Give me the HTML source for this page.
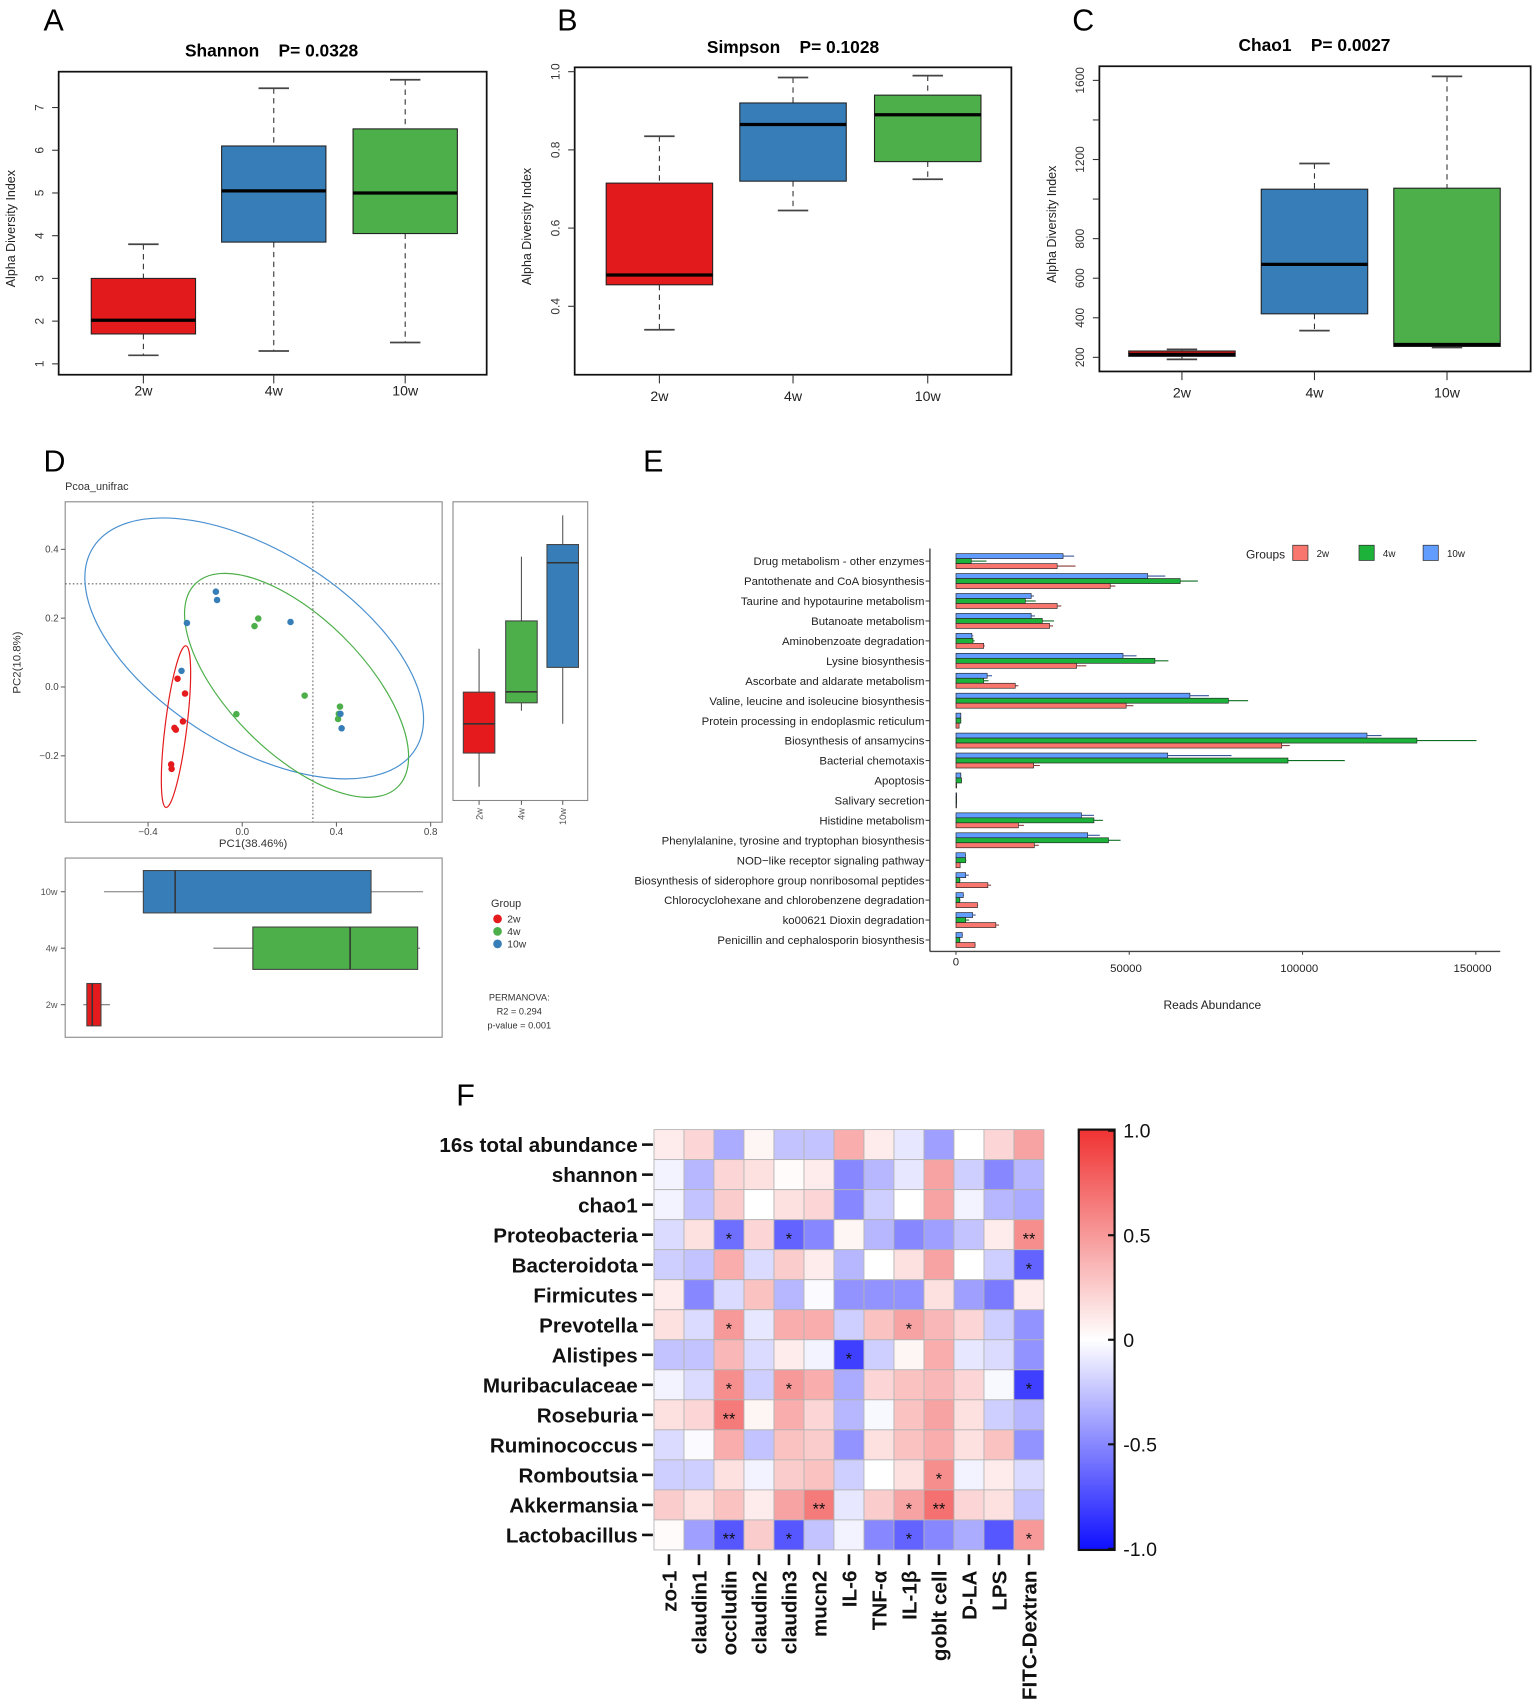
<!DOCTYPE html>
<html><head><meta charset="utf-8"><title>Microbiome figure</title>
<style>
html,body{margin:0;padding:0;background:#fff;}
svg{display:block;font-family:"Liberation Sans",Arial,sans-serif;}
.pre{white-space:pre;}
</style></head>
<body>
<svg id="fig" xmlns="http://www.w3.org/2000/svg" width="1535" height="1702" viewBox="0 0 1413 1567" preserveAspectRatio="none">
<rect x="0" y="0" width="1413" height="1567" fill="#fff"/>
<text x="40" y="28" font-size="28">A</text>
<text x="513" y="28" font-size="28">B</text>
<text x="987" y="28" font-size="28">C</text>
<text x="40" y="434" font-size="28">D</text>
<text x="592" y="434" font-size="28">E</text>
<text x="420" y="1018" font-size="28">F</text>
<text class="pre" xml:space="preserve" x="250" y="52" font-size="16" font-weight="bold" text-anchor="middle">Shannon    P= 0.0328</text>
<text class="pre" xml:space="preserve" x="730" y="49" font-size="16" font-weight="bold" text-anchor="middle">Simpson    P= 0.1028</text>
<text class="pre" xml:space="preserve" x="1210" y="47" font-size="16" font-weight="bold" text-anchor="middle">Chao1    P= 0.0027</text>
<text x="60" y="451" font-size="10" fill="#333">Pcoa_unifrac</text>
<text x="233" y="780" font-size="10.5" text-anchor="middle" fill="#333">PC1(38.46%)</text>
<text transform="translate(19,610) rotate(-90)" font-size="10.5" text-anchor="middle" fill="#333">PC2(10.8%)</text>
<text x="452" y="835" font-size="10" fill="#333">Group</text>
<text x="478" y="921" font-size="8.5" text-anchor="middle" fill="#333">PERMANOVA:</text>
<text x="478" y="934" font-size="8.5" text-anchor="middle" fill="#333">R2 = 0.294</text>
<text x="478" y="947" font-size="8.5" text-anchor="middle" fill="#333">p-value = 0.001</text>
<text x="1116" y="929" font-size="11" text-anchor="middle" fill="#222">Reads Abundance</text>
<text x="1165" y="514" font-size="11" text-anchor="middle" fill="#222">Groups</text>
</svg>
<script>
// ---------- Data: panels A-C ----------
const abCats = ['2w','4w','10w'];
const shannonMin = [1.2, 1.3, 1.5];
const shannonQ1 = [1.7, 3.85, 4.05];
const shannonMed = [2.02, 5.05, 5.0];
const shannonQ3 = [3.0, 6.1, 6.5];
const shannonMax = [3.8, 7.45, 7.65];
const shannonTicks = [1,2,3,4,5,6,7];
const simpsonMin = [0.34, 0.645, 0.725];
const simpsonQ1 = [0.455, 0.72, 0.77];
const simpsonMed = [0.48, 0.865, 0.89];
const simpsonQ3 = [0.715, 0.92, 0.94];
const simpsonMax = [0.835, 0.985, 0.99];
const simpsonTicks = [0.4,0.6,0.8,1.0];
const simpsonTickLabels = ['0.4','0.6','0.8','1.0'];
const chaoMin = [190, 335, 250];
const chaoQ1 = [205, 420, 255];
const chaoMed = [215, 670, 265];
const chaoQ3 = [232, 1050, 1055];
const chaoMax = [240, 1180, 1620];
const chaoTicks = [200,400,600,800,1000,1200,1400,1600];
const chaoTickLabels = ['200','400','600','800','','1200','','1600'];

// ---------- Data: panel D ----------
const pcoaGroups = ['2w','4w','10w'];
const pc1_2w = [-0.275,-0.243,-0.252,-0.288,-0.282,-0.302,-0.300];
const pc2_2w = [0.024,-0.019,-0.100,-0.119,-0.124,-0.225,-0.238];
const pc1_4w = [0.052,0.068,-0.025,0.265,0.415,0.410,0.407];
const pc2_4w = [0.177,0.199,-0.079,-0.025,-0.057,-0.078,-0.093];
const pc1_10w = [-0.112,-0.107,-0.235,-0.258,0.205,0.417,0.422];
const pc2_10w = [0.277,0.253,0.186,0.047,0.189,-0.078,-0.120];
const pcXTicks = [-0.4,0.0,0.4,0.8];
const pcYTicks = [0.4,0.2,0.0,-0.2];
const pc2BoxMin = [-0.29,-0.069,-0.107];
const pc2BoxQ1 = [-0.192,-0.046,0.057];
const pc2BoxMed = [-0.107,-0.014,0.361];
const pc2BoxQ3 = [-0.015,0.192,0.414];
const pc2BoxMax = [0.111,0.379,0.499];
const pc1BoxMin = [-0.675,-0.123,-0.587];
const pc1BoxQ1 = [-0.66,0.045,-0.42];
const pc1BoxMed = [-0.637,0.458,-0.285];
const pc1BoxQ3 = [-0.60,0.745,0.547];
const pc1BoxMax = [-0.562,0.755,0.768];

// ---------- Data: panel E ----------
const pathways = ['Drug metabolism - other enzymes','Pantothenate and CoA biosynthesis','Taurine and hypotaurine metabolism','Butanoate metabolism','Aminobenzoate degradation','Lysine biosynthesis','Ascorbate and aldarate metabolism','Valine, leucine and isoleucine biosynthesis','Protein processing in endoplasmic reticulum','Biosynthesis of ansamycins','Bacterial chemotaxis','Apoptosis','Salivary secretion','Histidine metabolism','Phenylalanine, tyrosine and tryptophan biosynthesis','NOD\u2212like receptor signaling pathway','Biosynthesis of siderophore group nonribosomal peptides','Chlorocyclohexane and chlorobenzene degradation','ko00621 Dioxin degradation','Penicillin and cephalosporin biosynthesis'];
const reads10w = [30900,55300,21700,21700,4600,48200,9000,67500,1400,118600,61100,1400,200,36200,38000,2700,2800,2100,4800,1800];
const reads4w  = [4400,64700,20000,24900,4900,57400,8000,78600,1400,133000,95800,1600,200,39800,44000,2800,1100,1100,2800,1100];
const reads2w  = [29200,44500,29200,27000,8000,34800,17100,49100,900,94000,22400,200,100,18000,22600,1200,9200,6200,11500,5500];
const err10w = [34100,60400,22500,22800,5000,52100,10400,73000,1500,122800,79500,1500,200,39800,41500,2900,3700,2300,5700,2000];
const err4w  = [8800,69800,23000,28300,5400,61300,9400,84300,1500,150200,112200,1700,200,42400,47500,3000,1300,1300,3800,1300];
const err2w  = [34500,46000,30400,28000,8300,37600,18000,51200,1000,96300,24200,300,100,19600,23900,1300,10100,6400,12400,5700];
const readTicks = [0,50000,100000,150000];

// ---------- Data: panel F ----------
const rowNames = ['16s total abundance','shannon','chao1','Proteobacteria','Bacteroidota','Firmicutes','Prevotella','Alistipes','Muribaculaceae','Roseburia','Ruminococcus','Romboutsia','Akkermansia','Lactobacillus'];
const colNames = ['zo-1','claudin1','occludin','claudin2','claudin3','mucn2','IL-6','TNF-\u03b1','IL-1\u03b2','goblt cell','D-LA','LPS','FITC-Dextran'];
const corrValues = [
 [0.10,0.20,-0.35,0.05,-0.25,-0.25,0.40,0.10,-0.10,-0.40,0.00,0.20,0.45],
 [-0.05,-0.30,0.20,0.15,0.02,0.10,-0.50,-0.30,-0.10,0.45,-0.20,-0.50,-0.30],
 [-0.05,-0.25,0.25,0.00,0.15,0.20,-0.50,-0.20,0.00,0.45,-0.05,-0.30,-0.35],
 [-0.15,0.15,-0.60,0.20,-0.65,-0.50,0.05,-0.30,-0.50,-0.40,-0.25,0.10,0.55],
 [-0.20,-0.25,0.40,-0.15,0.25,0.10,-0.30,0.00,0.15,0.45,0.00,-0.20,-0.65],
 [0.10,-0.50,-0.15,0.30,-0.30,-0.02,-0.45,-0.45,-0.45,0.15,-0.40,-0.55,0.10],
 [0.15,-0.15,0.50,-0.10,0.40,0.40,-0.20,0.30,0.45,0.35,0.20,-0.20,-0.45],
 [-0.25,-0.25,0.35,-0.15,0.10,-0.05,-0.80,-0.20,0.05,0.40,-0.10,-0.15,-0.45],
 [-0.05,-0.15,0.55,-0.20,0.50,0.40,-0.35,0.20,0.30,0.35,0.20,-0.03,-0.80],
 [0.15,0.20,0.65,0.05,0.40,0.20,-0.30,-0.03,0.30,0.45,0.15,-0.20,-0.30],
 [-0.15,-0.02,0.40,-0.25,0.30,0.25,-0.45,0.15,0.30,0.40,0.15,0.30,-0.45],
 [-0.20,-0.20,0.15,-0.05,0.25,0.30,-0.20,0.00,0.15,0.55,-0.05,0.10,-0.15],
 [0.25,0.15,0.30,0.10,0.45,0.65,-0.10,0.25,0.45,0.70,0.20,0.15,-0.25],
 [0.02,-0.40,-0.70,0.25,-0.70,-0.25,-0.05,-0.50,-0.65,-0.50,-0.35,-0.70,0.50]
];
const starRow = [3,3,3,4,6,6,7,8,8,8,9,11,12,12,12,13,13,13,13];
const starCol = [2,4,12,12,2,8,6,2,4,12,2,9,5,8,9,2,4,8,12];
const starText = ['*','*','**','*','*','*','*','*','*','*','**','*','**','*','**','**','*','*','*'];
const cbTicks = [1.0,0.5,0,-0.5,-1.0];
const cbTickLabels = ['1.0','0.5','0','-0.5','-1.0'];

// ---------- Helpers ----------
const NS = 'http://www.w3.org/2000/svg';
const svg = document.getElementById('fig');
function mk(tag, attrs, parent){
  const e = document.createElementNS(NS, tag);
  for (const k in attrs) e.setAttribute(k, attrs[k]);
  (parent || svg).appendChild(e);
  return e;
}
function linScale(d0, d1, r0, r1){ return v => r0 + (v - d0) * (r1 - r0) / (d1 - d0); }

// ---------- Panels A-C ----------
const abColors = ['#e31a1c','#377eb8','#4daf4a'];
function boxPanel(id, fr, ys, xs, halfW, mins, q1s, meds, q3s, maxs, ticks, tickLabels, labelY){
  const g = mk('g', {});
  
  
  const frame = mk('rect', {x:fr[0], y:fr[2], width:fr[1]-fr[0], height:fr[3]-fr[2], fill:'none', stroke:'#111', 'stroke-width':1.6}, g);
  
  
  ticks.forEach((t, i) => {
    const y = ys(t);
    const tk = mk('line', {x1:fr[0]-6, x2:fr[0], y1:y, y2:y, stroke:'#333', 'stroke-width':1}, g);
    
    
    if (tickLabels[i] !== '') {
      const tl = mk('text', {transform:'translate(' + (fr[0]-14) + ',' + y + ') rotate(-90)', 'font-size':11, 'text-anchor':'middle', fill:'#333'}, g);
      tl.textContent = tickLabels[i];
      
      
    }
  });
  const yt = mk('text', {transform:'translate(' + (fr[0]-40) + ',' + ((fr[2]+fr[3])/2 + 5) + ') rotate(-90)', 'font-size':11.5, 'text-anchor':'middle', fill:'#222'}, g);
  yt.textContent = 'Alpha Diversity Index';
  
  
  abCats.forEach((c, i) => {
    const x = xs[i];
    const xt = mk('line', {x1:x, x2:x, y1:fr[3], y2:fr[3]+8, stroke:'#333', 'stroke-width':1}, g);
    
    
    const xl = mk('text', {x:x, y:labelY, 'font-size':13, 'text-anchor':'middle', fill:'#222'}, g);
    xl.textContent = c;
    
    
    const w1 = mk('line', {x1:x, x2:x, y1:ys(maxs[i]), y2:ys(q3s[i]), stroke:'#333', 'stroke-dasharray':'5,4', 'stroke-width':1}, g);
    
    
    const w2 = mk('line', {x1:x, x2:x, y1:ys(q1s[i]), y2:ys(mins[i]), stroke:'#333', 'stroke-dasharray':'5,4', 'stroke-width':1}, g);
    
    
    [maxs[i], mins[i]].forEach(v => {
      const cap = mk('line', {x1:x-14, x2:x+14, y1:ys(v), y2:ys(v), stroke:'#444', 'stroke-width':1.6}, g);
      
      
    });
    const b = mk('rect', {x:x-halfW, y:ys(q3s[i]), width:2*halfW, height:ys(q1s[i])-ys(q3s[i]), fill:abColors[i], stroke:'#222', 'stroke-width':1}, g);
    
    
    const m = mk('line', {x1:x-halfW, x2:x+halfW, y1:ys(meds[i]), y2:ys(meds[i]), stroke:'#000', 'stroke-width':3}, g);
    
    
  });
}
boxPanel('shannon', [54,448,66,345], linScale(1,7,335,99), [132,252,373], 48, shannonMin, shannonQ1, shannonMed, shannonQ3, shannonMax, shannonTicks, shannonTicks.map(String), 364);
boxPanel('simpson', [529,931,62,345], linScale(0.4,1.0,282,66), [607,730,854], 49, simpsonMin, simpsonQ1, simpsonMed, simpsonQ3, simpsonMax, simpsonTicks, simpsonTickLabels, 369);
boxPanel('chao1', [1012,1409,61,342], linScale(200,1600,329,74), [1088,1210,1332], 49, chaoMin, chaoQ1, chaoMed, chaoQ3, chaoMax, chaoTicks, chaoTickLabels, 366);

// ---------- Panel D ----------
const dColors = ['#e41a1c','#4daf4a','#377eb8'];
const px = linScale(0, 0.4, 223, 309.7);
const py = linScale(0, 0.4, 632.5, 505.8);
const dG = mk('g', {});


const scFrame = mk('rect', {x:60, y:462, width:347, height:295, fill:'none', stroke:'#888', 'stroke-width':1}, dG);


const vline = mk('line', {x1:px(0.3), x2:px(0.3), y1:462, y2:757, stroke:'#666', 'stroke-dasharray':'1.5,2', 'stroke-width':1}, dG);


const hline = mk('line', {x1:60, x2:407, y1:py(0.3), y2:py(0.3), stroke:'#666', 'stroke-dasharray':'1.5,2', 'stroke-width':1}, dG);


pcXTicks.forEach(t => {
  const tk = mk('line', {x1:px(t), x2:px(t), y1:757, y2:761, stroke:'#666'}, dG);
  
  
  const tl = mk('text', {x:px(t), y:769, 'font-size':9, 'text-anchor':'middle', fill:'#444'}, dG);
  tl.textContent = (t === 0 ? '0.0' : (t < 0 ? '\u2212' + Math.abs(t).toFixed(1) : t.toFixed(1)));
  
  
});
pcYTicks.forEach(t => {
  const tk = mk('line', {x1:56, x2:60, y1:py(t), y2:py(t), stroke:'#666'}, dG);
  
  
  const tl = mk('text', {x:54, y:py(t)+3, 'font-size':9, 'text-anchor':'end', fill:'#444'}, dG);
  tl.textContent = (t === 0 ? '0.0' : (t < 0 ? '\u2212' + Math.abs(t).toFixed(1) : t.toFixed(1)));
  
  
});
const el1 = mk('ellipse', {cx:234, cy:597, rx:175, ry:90, transform:'rotate(32 234 597)', fill:'none', stroke:'#4a90d0', 'stroke-width':1.1}, dG);


const el2 = mk('ellipse', {cx:273, cy:631, rx:132, ry:62, transform:'rotate(45 273 631)', fill:'none', stroke:'#4daf4a', 'stroke-width':1.1}, dG);


const el3 = mk('ellipse', {cx:162, cy:669, rx:10, ry:75, transform:'rotate(7 162 669)', fill:'none', stroke:'#e41a1c', 'stroke-width':1.1}, dG);


[[pc1_2w,pc2_2w],[pc1_4w,pc2_4w],[pc1_10w,pc2_10w]].forEach((s, gi) => {
  s[0].forEach((v, i) => {
    const c = mk('circle', {cx:px(v), cy:py(s[1][i]), r:3, fill:dColors[gi]}, dG);
    
    
  });
});
const rbFrame = mk('rect', {x:417, y:462, width:124, height:275, fill:'none', stroke:'#888'}, dG);


const rbX = [441, 480, 518];
pcoaGroups.forEach((gname, i) => {
  const x = rbX[i];
  const w = mk('line', {x1:x, x2:x, y1:py(pc2BoxMax[i]), y2:py(pc2BoxMin[i]), stroke:'#555'}, dG);
  
  
  const b = mk('rect', {x:x-14.5, y:py(pc2BoxQ3[i]), width:29, height:py(pc2BoxQ1[i])-py(pc2BoxQ3[i]), fill:dColors[i], stroke:'#444'}, dG);
  
  
  const m = mk('line', {x1:x-14.5, x2:x+14.5, y1:py(pc2BoxMed[i]), y2:py(pc2BoxMed[i]), stroke:'#333', 'stroke-width':1.4}, dG);
  
  
  const tk = mk('line', {x1:x, x2:x, y1:737, y2:741, stroke:'#666'}, dG);
  
  
  const tl = mk('text', {transform:'translate(' + (x+3) + ',744) rotate(-90)', 'font-size':8.5, 'text-anchor':'end', fill:'#555'}, dG);
  tl.textContent = gname;
  
  
});
const bbFrame = mk('rect', {x:60, y:790, width:347, height:165, fill:'none', stroke:'#888'}, dG);


const bbY = [925, 873, 821];
pcoaGroups.forEach((gname, i) => {
  const y = bbY[i];
  const w = mk('line', {x1:px(pc1BoxMin[i]), x2:px(pc1BoxMax[i]), y1:y, y2:y, stroke:'#777'}, dG);
  
  
  const b = mk('rect', {x:px(pc1BoxQ1[i]), y:y-19.5, width:px(pc1BoxQ3[i])-px(pc1BoxQ1[i]), height:39, fill:dColors[i], stroke:'#444'}, dG);
  
  
  const m = mk('line', {x1:px(pc1BoxMed[i]), x2:px(pc1BoxMed[i]), y1:y-19.5, y2:y+19.5, stroke:'#333', 'stroke-width':1.4}, dG);
  
  
  const tk = mk('line', {x1:56, x2:60, y1:y, y2:y, stroke:'#666'}, dG);
  
  
  const tl = mk('text', {x:53, y:y+3, 'font-size':8.5, 'text-anchor':'end', fill:'#555'}, dG);
  tl.textContent = gname;
  
  
  const ld = mk('circle', {cx:458, cy:846+i*11.5, r:4, fill:dColors[i]}, dG);
  
  
  const lt = mk('text', {x:467, y:849.5+i*11.5, 'font-size':9.5, fill:'#333'}, dG);
  lt.textContent = gname;
  
  
});

// ---------- Panel E ----------
const eX = linScale(0, 150000, 880, 1358.5);
const eY = i => 516.6 + i * 18.36;
const eG = mk('g', {});


const eCols = ['#619cff','#1db33b','#f8766d'];
const eDark = ['#34559a','#0c6e22','#8a3b36'];
const eSeries = [reads10w, reads4w, reads2w];
const eErr = [err10w, err4w, err2w];
const eNames = ['10w','4w','2w'];
pathways.forEach((p, i) => {
  const cy = eY(i);
  const lab = mk('text', {x:851, y:cy+3.8, 'font-size':10.5, 'text-anchor':'end', fill:'#222'}, eG);
  lab.textContent = p;
  
  
  const tk = mk('line', {x1:852, x2:856, y1:cy, y2:cy, stroke:'#444'}, eG);
  
  
  eSeries.forEach((s, k) => {
    const by = cy - 6.9 + k * 4.6;
    const b = mk('rect', {x:eX(0), y:by, width:Math.max(0.5, eX(s[i]) - eX(0)), height:4.6, fill:eCols[k], stroke:'#222', 'stroke-width':0.6}, eG);
    
    
    const er = mk('line', {x1:eX(s[i]), x2:eX(eErr[k][i]), y1:by+2.3, y2:by+2.3, stroke:eDark[k], 'stroke-width':1}, eG);
    
    
  });
});
const eYAxis = mk('line', {x1:856, x2:856, y1:505, y2:876, stroke:'#444', 'stroke-width':1.3}, eG);


const eXAxis = mk('line', {x1:856, x2:1381, y1:876, y2:876, stroke:'#444', 'stroke-width':1.3}, eG);


readTicks.forEach((t, i) => {
  const tk = mk('line', {x1:eX(t), x2:eX(t), y1:876, y2:879, stroke:'#444'}, eG);
  
  
  const tl = mk('text', {x:eX(t) + (i===0?0:-3), y:889 + (i===0?0:6), 'font-size':10.5, 'text-anchor':'middle', fill:'#222'}, eG);
  tl.textContent = String(t);
  
  
});
['2w','4w','10w'].forEach((gname, i) => {
  const lx = [1190, 1251, 1310][i];
  const c = [eCols[2], eCols[1], eCols[0]][i];
  const sw = mk('rect', {x:lx, y:502, width:14, height:14, fill:c, stroke:'#333', 'stroke-width':0.7}, eG);
  
  
  const lt = mk('text', {x:lx+22, y:513, 'font-size':9, fill:'#222'}, eG);
  lt.textContent = gname;
  
  
});

// ---------- Panel F ----------
const fG = mk('g', {});


const gx0 = 602, gy0 = 1040, cw = (961 - 602) / colNames.length, ch = (1427 - 1040) / rowNames.length;
function heatColor(v){
  v = Math.max(-1, Math.min(1, v));
  let r, g, b;
  if (v >= 0){ r = 255 - 15*v; g = 255 - 205*v; b = 255 - 205*v; }
  else { const t = -v; r = 255 - 240*t; g = 255 - 240*t; b = 255; }
  return 'rgb(' + Math.round(r) + ',' + Math.round(g) + ',' + Math.round(b) + ')';
}
corrValues.forEach((row, ri) => {
  row.forEach((v, ci) => {
    const c = mk('rect', {x:gx0 + ci*cw, y:gy0 + ri*ch, width:cw, height:ch, fill:heatColor(v), stroke:'#b4b4b4', 'stroke-width':0.8}, fG);
    
    
  });
  const rl = mk('text', {x:587, y:gy0 + ri*ch + ch/2 + 7, 'font-size':19, 'font-weight':'bold', 'text-anchor':'end', fill:'#111'}, fG);
  rl.textContent = rowNames[ri];
  
  
  const rt = mk('line', {x1:591, x2:601, y1:gy0 + ri*ch + ch/2, y2:gy0 + ri*ch + ch/2, stroke:'#111', 'stroke-width':2.4}, fG);
  
  
});
colNames.forEach((cn, ci) => {
  const x = gx0 + ci*cw + cw/2;
  const ct = mk('line', {x1:x, x2:x, y1:1431, y2:1441, stroke:'#111', 'stroke-width':2.4}, fG);
  
  
  const cl = mk('text', {transform:'translate(' + (x+7) + ',1446) rotate(-90)', 'font-size':19, 'font-weight':'bold', 'text-anchor':'end', fill:'#111'}, fG);
  cl.textContent = cn;
  
  
});
starRow.forEach((r, i) => {
  const st = mk('text', {x:gx0 + starCol[i]*cw + cw/2, y:gy0 + r*ch + ch/2 + 9, 'font-size':15, 'text-anchor':'middle', fill:'#111'}, fG);
  st.textContent = starText[i];
  
  
});
const defs = mk('defs', {});
const grad = mk('linearGradient', {id:'cbg', x1:0, y1:0, x2:0, y2:1}, defs);
mk('stop', {offset:'0', 'stop-color':heatColor(1)}, grad);
mk('stop', {offset:'0.5', 'stop-color':heatColor(0)}, grad);
mk('stop', {offset:'1', 'stop-color':heatColor(-1)}, grad);
const cbY = linScale(1, -1, 1041, 1426);
const cb = mk('rect', {x:993, y:1040, width:33, height:387, fill:'url(#cbg)', stroke:'#111', 'stroke-width':2}, fG);


cbTicks.forEach((t, i) => {
  const tk = mk('line', {x1:1020, x2:1026, y1:cbY(t), y2:cbY(t), stroke:'#111', 'stroke-width':2}, fG);
  
  
  const tl = mk('text', {x:1034, y:cbY(t)+6.5, 'font-size':18, fill:'#111'}, fG);
  tl.textContent = cbTickLabels[i];
  
  
});
</script>
</body></html>
